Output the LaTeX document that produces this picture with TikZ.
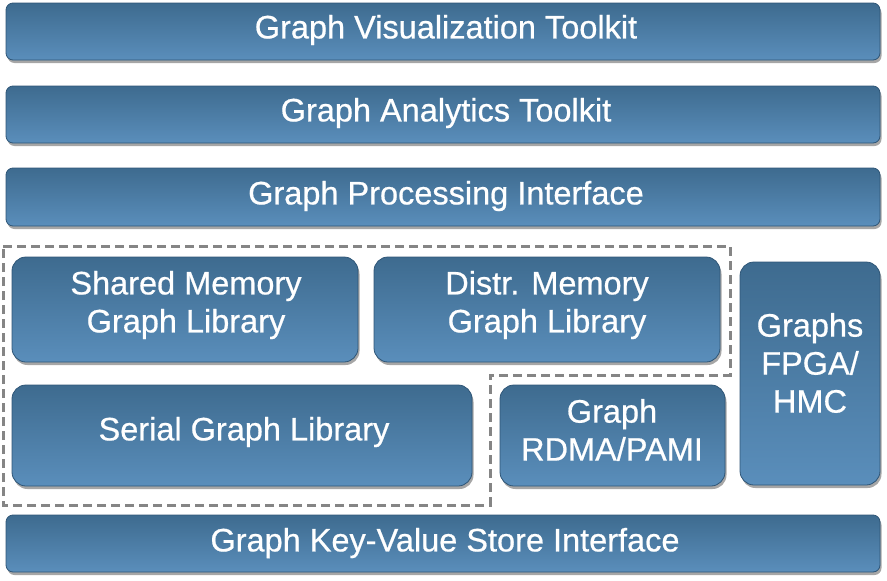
\documentclass[tikz,border=0pt]{standalone}
\usepackage{fontspec}
\setmainfont{Liberation Sans}
\newfontfamily\layerfont[FakeBold=0.6]{Liberation Sans}
\usetikzlibrary{shadows,positioning}
\definecolor{blockTop}{HTML}{3E6B8F}
\definecolor{blockBot}{HTML}{5A8EBB}
\definecolor{blockEdge}{HTML}{2F5677}
\definecolor{dashGray}{HTML}{858585}
\tikzset{
  layer/.style={rounded corners=7pt, top color=blockTop, bottom color=blockBot,
    draw=blockEdge, line width=0.8pt,
    drop shadow={shadow xshift=1.5pt, shadow yshift=-3pt, opacity=0.35, fill=black}},
  block/.style={layer, rounded corners=14pt},
  label/.style={text=white, font=\layerfont\fontsize{32.5}{38}\selectfont, align=center, inner sep=0pt},
  group/.style={draw=dashGray, line width=3pt, dash pattern=on 9pt off 5pt}
}
\begin{document}
\begin{tikzpicture}[x=1pt,y=-1pt]
  \useasboundingbox (0,0) rectangle (887,581);
  % horizontal layers
  \path[layer] (6,3) rectangle (880,60);
  \node[label] (viz) at (446,30) {Graph Visualization Toolkit};
  \path[layer] (6,86) rectangle (880,143);
  \node[label] (ana) at (446,113) {Graph Analytics Toolkit};
  \path[layer] (6,168) rectangle (880,226);
  \node[label] (gpi) at (446,196) {Graph Processing Interface};
  \path[layer] (6,515) rectangle (880,572);
  \node[label] (kvs) at (445,543) {Graph Key-Value Store Interface};
  % library blocks
  \path[block] (12,257) rectangle (358,362);
  \node[label] (shm) at (186,305) {Shared Memory\\Graph Library};
  \path[block] (374,257) rectangle (720,362);
  \node[label] (dsm) at (547,305) {Distr. Memory\\Graph Library};
  \path[block] (12,385) rectangle (472,486);
  \node[label] (ser) at (244,432) {Serial Graph Library};
  \path[block] (500,385) rectangle (725,486);
  \node[label] (rdma) at (612,430) {Graph\\RDMA/PAMI};
  \path[block] (740,262) rectangle (880,485);
  \node[label] (fpga) at (810,363) {Graphs\\FPGA/\\HMC};
  % dashed grouping of the library layer
  \draw[group] (3,246) -- (730,246) -- (730,375) -- (490,375) -- (490,505) -- (3,505) -- cycle;
\end{tikzpicture}
\end{document}
